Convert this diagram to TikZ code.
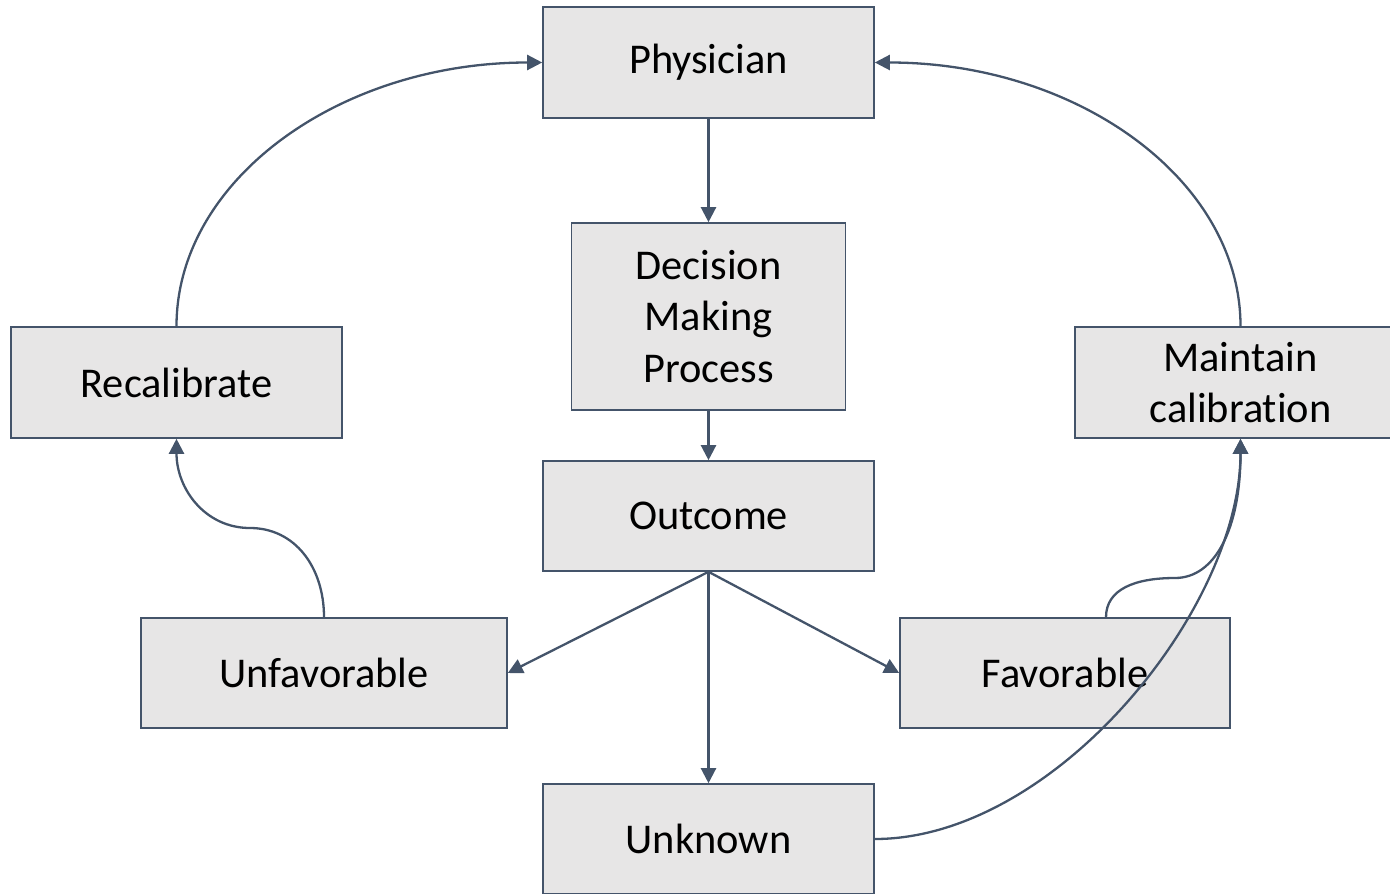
\documentclass[tikz,border=0pt]{standalone}
\usepackage{fontspec}
\setmainfont[Ligatures=NoCommon]{Carlito}
\usetikzlibrary{arrows.meta,calc}
\definecolor{edgecol}{HTML}{44546A}
\definecolor{boxfill}{HTML}{E7E6E6}
\begin{document}
\begin{tikzpicture}[x=0.5pt,y=-0.5pt,
  box/.style={draw=edgecol,fill=boxfill,line width=0.8pt,inner sep=0pt,align=center,
    font=\fontsize{21.2}{25.7}\selectfont},
  conn/.style={draw=edgecol,line width=1.15pt,-{Triangle[length=7.5pt,width=7.5pt]}}]
\useasboundingbox (0,0) rectangle (1390,893);
\clip (0,0) rectangle (1390,893);
\node[box,minimum width=165.5pt,minimum height=55.5pt] (phys) at (708.5,62.5) {\raisebox{-0.6pt}{Physician}};
\node[box,minimum width=137pt,minimum height=93.5pt] (dec) at (708.5,316.5) {Decision\\Making\\Process};
\node[box,minimum width=165.5pt,minimum height=55pt] (outc) at (708.5,516) {Outcome};
\node[box,minimum width=165.5pt,minimum height=55pt] (unk) at (708.5,839) {Unknown};
\node[box,minimum width=165.5pt,minimum height=55.5pt] (recal) at (176.5,382.5) {Recalibrate};
\node[box,minimum width=183pt,minimum height=55pt] (unf) at (324,673) {Unfavorable};
\node[box,minimum width=165pt,minimum height=55pt] (fav) at (1065,673) {Favorable};
\node[box,minimum width=165.5pt,minimum height=55.5pt] (maint) at (1240.5,382.5) {Maintain\\calibration};
\draw[conn] (phys.south) -- (dec.north);
\draw[conn] (dec.south) -- (outc.north);
\draw[conn] (outc.south) -- (unf.east);
\draw[conn] (outc.south) -- (fav.west);
\draw[conn] (outc.south) -- (unk.north);
\draw[conn] (recal.north) .. controls +(0,-146) and +(-203,0) .. (phys.west);
\draw[conn] (maint.north) .. controls +(0,-146) and +(203,0) .. (phys.east);
\coordinate (unfmid) at (250,528);
\coordinate (favmid) at (1175,578);
\draw[conn] (unf.north) .. controls +(0,-50) and +(45,0) .. (unfmid)
  .. controls +(-45,0) and +(0,50) .. (recal.south);
\draw[conn] ($(fav.north)+(41,0)$) .. controls +(0,-28) and +(-40,0) .. (favmid)
  .. controls +(40,0) and +(0,90) .. (maint.south);
\draw[conn] (unk.east) .. controls +(180,0) and +(0,170) .. (maint.south);
\end{tikzpicture}
\end{document}
